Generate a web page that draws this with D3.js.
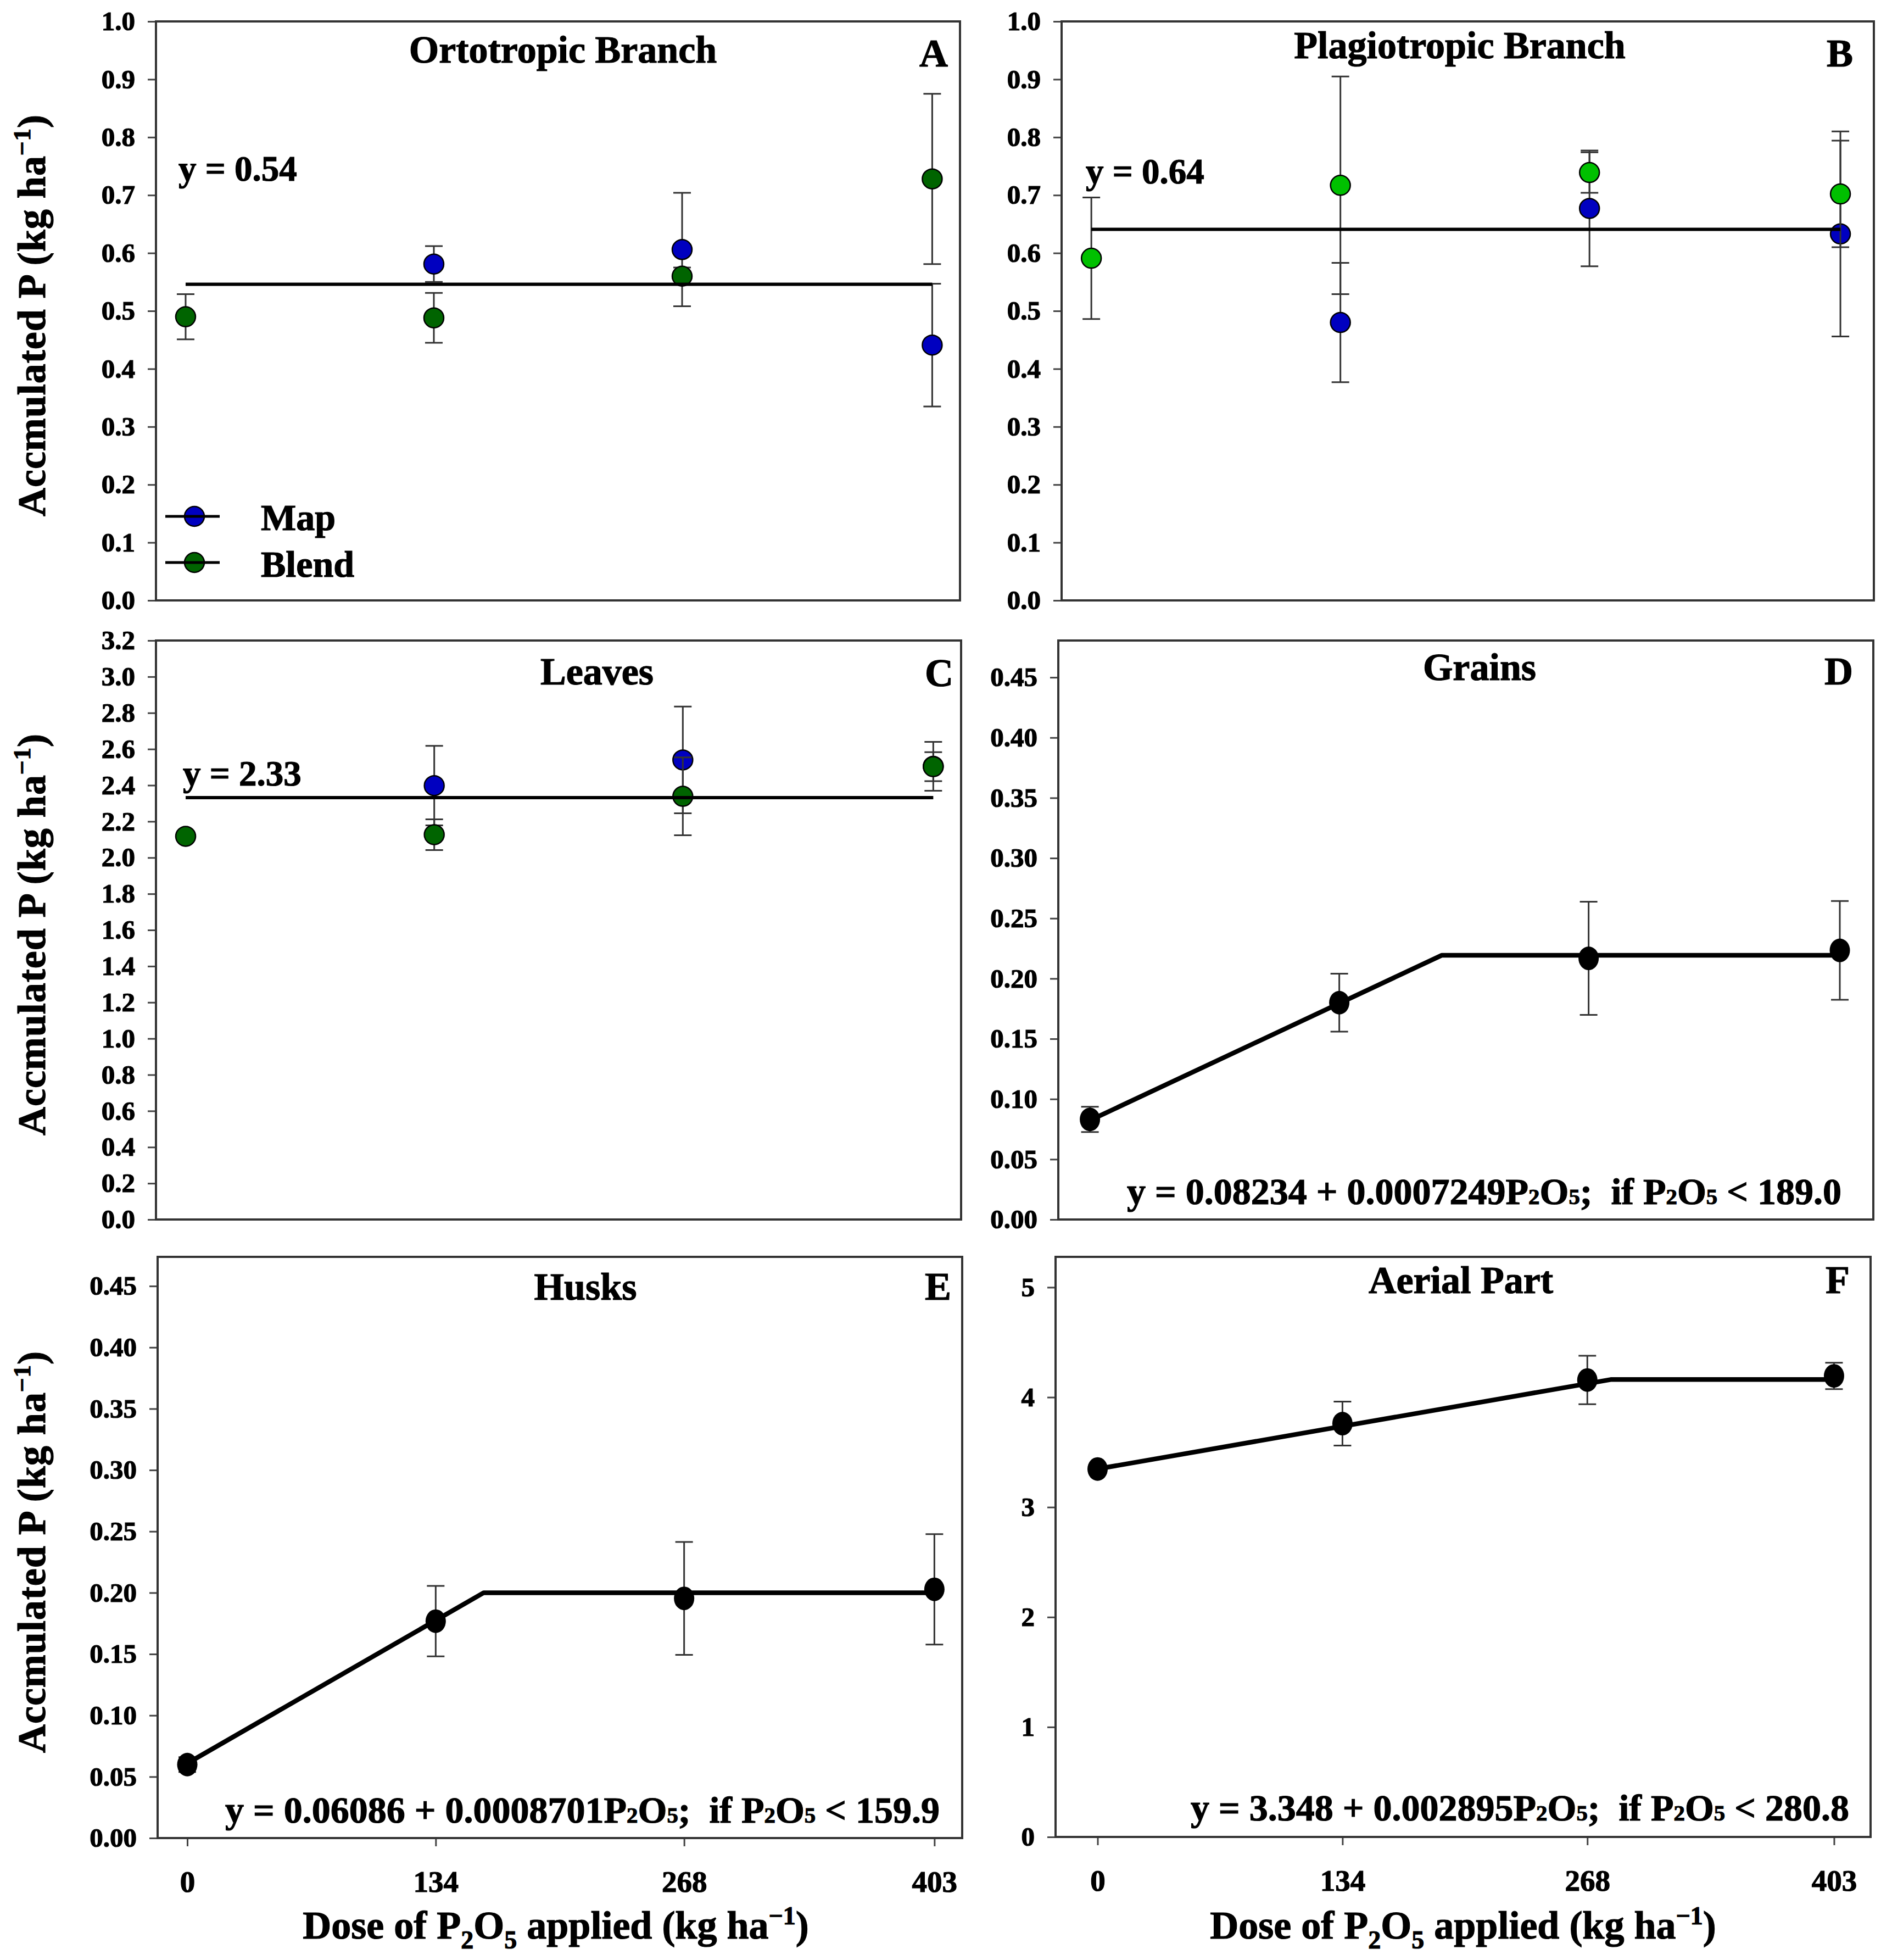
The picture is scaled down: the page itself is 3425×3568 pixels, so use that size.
<!doctype html>
<html>
<head>
<meta charset="utf-8">
<script src="https://cdnjs.cloudflare.com/ajax/libs/d3/7.8.5/d3.min.js"></script>
<style>
  body { margin: 0; background: #fff; }
  text { font-family: "Liberation Serif", "Times New Roman", serif; font-weight: bold; white-space: pre;
         stroke: #000; stroke-width: 1.2px; paint-order: stroke; }
</style>
</head>
<body>
<svg id="fig" width="3425" height="3568"></svg>
<script>
// doses of P2O5 (kg/ha)
var doses = [0, 134, 268, 403];

// A - ortotropic branch
var ortoMap = [null, 0.581, 0.606, 0.441];
var ortoMapErr = [null, 0.031, 0.098, 0.106];
var ortoBlend = [0.490, 0.488, 0.560, 0.728];
var ortoBlendErr = [0.039, 0.043, 0.015, 0.147];
var ortoLevel = 0.546;

// B - plagiotropic branch
var plagMap = [null, 0.480, 0.677, 0.633];
var plagMapErr = [null, 0.103, 0.100, 0.177];
var plagBlend = [0.591, 0.717, 0.739, 0.702];
var plagBlendErr = [0.105, 0.188, 0.035, 0.092];
var plagLevel = 0.641;

// C - leaves
var leafMap = [null, 2.398, 2.540, 2.505];
var leafMapErr = [null, 0.220, 0.295, 0.135];
var leafBlend = [2.118, 2.127, 2.339, 2.503];
var leafBlendErr = [0, 0.085, 0.215, 0.080];
var leafLevel = 2.332;

// D - grains
var grainMean = [0.0831, 0.180, 0.2168, 0.2234];
var grainErr = [0.0105, 0.024, 0.047, 0.041];
var grainFitX = [0, 189.0, 403];
var grainFitY = [0.0823, 0.2193, 0.2193];

// E - husks
var huskMean = [0.0599, 0.1768, 0.1954, 0.2028];
var huskErr = [0.006, 0.0287, 0.046, 0.045];
var huskFitX = [0, 159.9, 403];
var huskFitY = [0.0609, 0.2000, 0.2000];

// F - aerial part
var aerialMean = [3.347, 3.760, 4.157, 4.194];
var aerialErr = [0.03, 0.20, 0.22, 0.12];
var aerialFitX = [0, 280.8, 403];
var aerialFitY = [3.348, 4.161, 4.161];

// tick labels
var ticksAB = [0.0, 0.1, 0.2, 0.3, 0.4, 0.5, 0.6, 0.7, 0.8, 0.9, 1.0];
var ticksC = [0.0, 0.2, 0.4, 0.6, 0.8, 1.0, 1.2, 1.4, 1.6, 1.8, 2.0, 2.2, 2.4, 2.6, 2.8, 3.0, 3.2];
var ticksDE = [0.00, 0.05, 0.10, 0.15, 0.20, 0.25, 0.30, 0.35, 0.40, 0.45];
var ticksF = [0, 1, 2, 3, 4, 5];

var BLUE = "#0000c0", DKGREEN = "#006400", LTGREEN = "#00c000";

var panels = [
  { id: "A", title: "Ortotropic Branch", box: [284, 39, 1748, 1093], xDom: [-16, 418], yDom: [0, 1],
    ticks: ticksAB, fmt: ".1f", level: ortoLevel,
    series: [{ v: ortoMap, e: ortoMapErr, fill: BLUE }, { v: ortoBlend, e: ortoBlendErr, fill: DKGREEN }],
    titleX: 1025, titleY: 114, letterX: 1726, letterY: 121,
    eq: [["y = 0.54", 0]], eqX: 325, eqY: 329, eqAnchor: "start", eqSize: 65, legend: true, yTitle: true },
  { id: "B", title: "Plagiotropic Branch", box: [1933, 39, 3412, 1093], xDom: [-16, 421], yDom: [0, 1],
    ticks: ticksAB, fmt: ".1f", level: plagLevel,
    series: [{ v: plagMap, e: plagMapErr, fill: BLUE }, { v: plagBlend, e: plagBlendErr, fill: LTGREEN }],
    titleX: 2658, titleY: 106, letterX: 3374, letterY: 121,
    eq: [["y = 0.64", 0]], eqX: 1977, eqY: 334, eqAnchor: "start", eqSize: 65 },
  { id: "C", title: "Leaves", box: [284, 1166, 1750, 2220], xDom: [-16, 418], yDom: [0, 3.2],
    ticks: ticksC, fmt: ".1f", level: leafLevel,
    series: [{ v: leafMap, e: leafMapErr, fill: BLUE }, { v: leafBlend, e: leafBlendErr, fill: DKGREEN }],
    titleX: 1087, titleY: 1246, letterX: 1736, letterY: 1249,
    eq: [["y = 2.33", 0]], eqX: 333, eqY: 1430, eqAnchor: "start", eqSize: 65, yTitle: true },
  { id: "D", title: "Grains", box: [1927, 1166, 3411, 2220], xDom: [-17, 421], yDom: [0, 0.4806],
    ticks: ticksDE, fmt: ".2f", mean: grainMean, err: grainErr, fitX: grainFitX, fitY: grainFitY,
    titleX: 2694, titleY: 1238, letterX: 3374, letterY: 1246,
    eq: [["y = 0.08234 + 0.0007249P", 0], ["2", 1], ["O", 0], ["5", 1], [";  if P", 0], ["2", 1], ["O", 0], ["5", 1], [" < 189.0", 0]],
    eqX: 3353, eqY: 2192, eqAnchor: "end", eqSize: 68 },
  { id: "E", title: "Husks", box: [287, 2288, 1752, 3346], xDom: [-16, 418], yDom: [0, 0.4738],
    ticks: ticksDE, fmt: ".2f", mean: huskMean, err: huskErr, fitX: huskFitX, fitY: huskFitY,
    titleX: 1066, titleY: 2366, letterX: 1732, letterY: 2366,
    eq: [["y = 0.06086 + 0.0008701P", 0], ["2", 1], ["O", 0], ["5", 1], [";  if P", 0], ["2", 1], ["O", 0], ["5", 1], [" < 159.9", 0]],
    eqX: 1711, eqY: 3318, eqAnchor: "end", eqSize: 68, xAxis: true, xTitleX: 1012, yTitle: true },
  { id: "F", title: "Aerial Part", box: [1922, 2288, 3406, 3344], xDom: [-23, 423], yDom: [0, 5.277],
    ticks: ticksF, fmt: "d", mean: aerialMean, err: aerialErr, fitX: aerialFitX, fitY: aerialFitY,
    titleX: 2660, titleY: 2354, letterX: 3368, letterY: 2354,
    eq: [["y = 3.348 + 0.002895P", 0], ["2", 1], ["O", 0], ["5", 1], [";  if P", 0], ["2", 1], ["O", 0], ["5", 1], [" < 280.8", 0]],
    eqX: 3367, eqY: 3314, eqAnchor: "end", eqSize: 68, xAxis: true, xTitleX: 2664 }
];

var FONT = "Liberation Serif, Times New Roman, serif";
var svg = d3.select("#fig");

function errorBars(g, x, y, pts) {
  var eb = g.append("g").attr("stroke", "#333").attr("stroke-width", 3);
  pts.filter(function (d) { return d.e > 0; }).forEach(function (d) {
    var cx = x(d.x), lo = y(d.v - d.e), hi = y(d.v + d.e);
    eb.append("line").attr("x1", cx).attr("x2", cx).attr("y1", lo).attr("y2", hi);
    eb.append("line").attr("x1", cx - 16).attr("x2", cx + 16).attr("y1", lo).attr("y2", lo);
    eb.append("line").attr("x1", cx - 16).attr("x2", cx + 16).attr("y1", hi).attr("y2", hi);
  });
}

panels.forEach(function (p) {
  var x = d3.scaleLinear().domain(p.xDom).range([p.box[0], p.box[2]]);
  var y = d3.scaleLinear().domain(p.yDom).range([p.box[3], p.box[1]]);
  var g = svg.append("g").attr("class", "panel-" + p.id);

  // y axis
  var ay = g.append("g").attr("transform", "translate(" + p.box[0] + ",0)")
    .call(d3.axisLeft(y).tickValues(p.ticks).tickFormat(d3.format(p.fmt)).tickSize(15).tickPadding(23));
  ay.attr("font-family", FONT).attr("font-size", 49).attr("font-weight", "bold");
  ay.select(".domain").remove();
  ay.selectAll(".tick line").attr("stroke", "#444").attr("stroke-width", 3);
  ay.selectAll(".tick text").attr("fill", "#000");

  // x axis (bottom row only)
  if (p.xAxis) {
    var ax = g.append("g").attr("transform", "translate(0," + p.box[3] + ")")
      .call(d3.axisBottom(x).tickValues(doses).tickFormat(d3.format("d")).tickSize(15).tickPadding(44));
    ax.attr("font-family", FONT).attr("font-size", 55).attr("font-weight", "bold");
    ax.select(".domain").remove();
    ax.selectAll(".tick line").attr("stroke", "#444").attr("stroke-width", 3);
    ax.selectAll(".tick text").attr("fill", "#000");
  }

  if (p.series) {
    p.series.forEach(function (s) {
      var pts = doses.map(function (d, i) { return { x: d, v: s.v[i], e: s.e[i] }; })
        .filter(function (d) { return d.v != null; });
      errorBars(g, x, y, pts);
      g.append("g").selectAll("circle").data(pts).enter().append("circle")
        .attr("cx", function (d) { return x(d.x); })
        .attr("cy", function (d) { return y(d.v); })
        .attr("r", 18)
        .attr("fill", s.fill).attr("stroke", "#000").attr("stroke-width", 2.5);
    });
    // overall mean line
    g.append("path")
      .datum([doses[0], doses[doses.length - 1]])
      .attr("d", d3.line().x(function (d) { return x(d); }).y(function () { return y(p.level); }))
      .attr("stroke", "#000").attr("stroke-width", 6).attr("fill", "none");
  } else {
    var pts = doses.map(function (d, i) { return { x: d, v: p.mean[i], e: p.err[i] }; });
    errorBars(g, x, y, pts);
    var fit = p.fitX.map(function (d, i) { return [d, p.fitY[i]]; });
    g.append("path").datum(fit)
      .attr("d", d3.line().x(function (d) { return x(d[0]); }).y(function (d) { return y(d[1]); }))
      .attr("stroke", "#000").attr("stroke-width", 8.5).attr("fill", "none").attr("stroke-linejoin", "round");
    g.append("g").selectAll("ellipse").data(pts).enter().append("ellipse")
      .attr("cx", function (d) { return x(d.x); })
      .attr("cy", function (d) { return y(d.v); })
      .attr("rx", 18.5).attr("ry", 21.5)
      .attr("fill", "#000");
  }

  // frame
  g.append("rect")
    .attr("x", p.box[0]).attr("y", p.box[1])
    .attr("width", p.box[2] - p.box[0]).attr("height", p.box[3] - p.box[1])
    .attr("fill", "none").attr("stroke", "#333").attr("stroke-width", 4);

  // title and panel letter
  g.append("text").attr("x", p.titleX).attr("y", p.titleY).attr("text-anchor", "middle")
    .attr("font-size", 70).text(p.title);
  g.append("text").attr("x", p.letterX).attr("y", p.letterY).attr("text-anchor", "end")
    .attr("font-size", 72).text(p.id);

  // equation
  var eq = g.append("text").attr("x", p.eqX).attr("y", p.eqY).attr("text-anchor", p.eqAnchor)
    .attr("font-size", p.eqSize);
  p.eq.forEach(function (part) {
    eq.append("tspan").attr("font-size", part[1] ? p.eqSize * 0.6 : p.eqSize).text(part[0]);
  });

  // y axis title
  if (p.yTitle) {
    var cy = (p.box[1] + p.box[3]) / 2 + 8;
    var yt = g.append("text").attr("transform", "translate(82," + cy + ") rotate(-90)")
      .attr("text-anchor", "middle").attr("font-size", 72).attr("letter-spacing", 1);
    yt.append("tspan").text("Accmulated P (kg ha");
    yt.append("tspan").attr("font-size", 45).attr("dy", -27).text("\u22121");
    yt.append("tspan").attr("dy", 27).text(")");
  }

  // x axis title
  if (p.xAxis) {
    var xt = g.append("text").attr("x", p.xTitleX).attr("y", 3529)
      .attr("text-anchor", "middle").attr("font-size", 72);
    xt.append("tspan").text("Dose of P");
    xt.append("tspan").attr("font-size", 46).attr("dy", 18).text("2");
    xt.append("tspan").attr("dy", -18).text("O");
    xt.append("tspan").attr("font-size", 46).attr("dy", 18).text("5");
    xt.append("tspan").attr("dy", -18).text(" applied (kg ha");
    xt.append("tspan").attr("font-size", 46).attr("dy", -26).text("\u22121");
    xt.append("tspan").attr("dy", 26).text(")");
  }

  // legend (panel A)
  if (p.legend) {
    var lg = g.append("g");
    var items = [{ label: "Map", fill: BLUE, cy: 940, ty: 965 }, { label: "Blend", fill: DKGREEN, cy: 1024, ty: 1050 }];
    items.forEach(function (it) {
      lg.append("line").attr("x1", 301).attr("x2", 400).attr("y1", it.cy).attr("y2", it.cy)
        .attr("stroke", "#000").attr("stroke-width", 5);
      lg.append("circle").attr("cx", 354).attr("cy", it.cy).attr("r", 18)
        .attr("fill", it.fill).attr("stroke", "#000").attr("stroke-width", 2.5);
      lg.append("line").attr("x1", 336).attr("x2", 372).attr("y1", it.cy).attr("y2", it.cy)
        .attr("stroke", "#000").attr("stroke-width", 5);
      lg.append("text").attr("x", 475).attr("y", it.ty).attr("font-size", 68).text(it.label);
    });
  }
});
</script>
</body>
</html>
